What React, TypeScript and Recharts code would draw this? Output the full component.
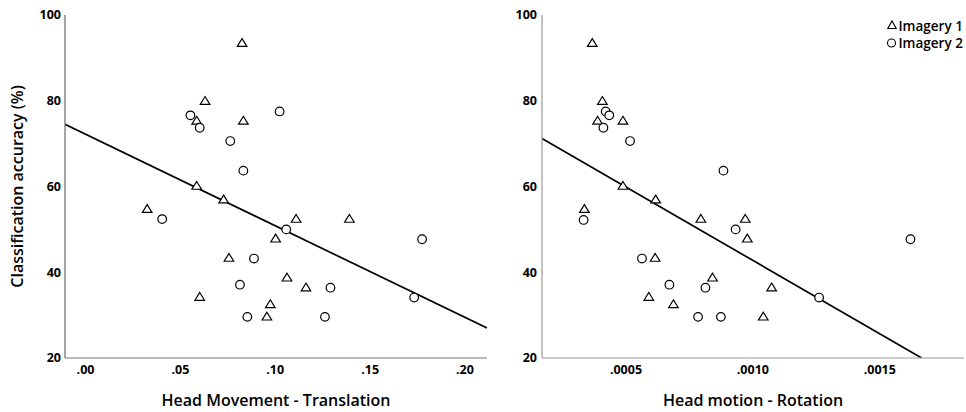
import React from 'react';
import { ScatterChart, Scatter, XAxis, YAxis, ReferenceLine, Legend } from 'recharts';

// ---- Data ----
const imagery1Translation = [0.0825, 0.063, 0.0586, 0.0832, 0.0586, 0.0728, 0.0325, 0.111, 0.1391, 0.1002, 0.0756, 0.1062, 0.1162, 0.0602, 0.0974, 0.0956];
const imagery1Accuracy = [93.5, 80.0, 75.4, 75.4, 60.2, 57.0, 54.8, 52.5, 52.5, 47.9, 43.4, 38.8, 36.5, 34.3, 32.6, 29.7];
const imagery2Translation = [0.0553, 0.1023, 0.0602, 0.0763, 0.0832, 0.0404, 0.1058, 0.1774, 0.0888, 0.0814, 0.1291, 0.1732, 0.0853, 0.1262];
const imagery2Accuracy = [76.6, 77.5, 73.7, 70.6, 63.7, 52.4, 50.0, 47.7, 43.2, 37.1, 36.4, 34.1, 29.6, 29.6];

const imagery1Rotation = [0.000367, 0.000407, 0.000388, 0.000488, 0.000488, 0.000617, 0.000336, 0.000795, 0.00097, 0.000978, 0.000615, 0.000841, 0.001074, 0.00059, 0.000687, 0.001041];
const imagery1AccuracyR = [93.5, 80.0, 75.4, 75.4, 60.2, 57.0, 54.8, 52.5, 52.5, 47.9, 43.4, 38.8, 36.5, 34.3, 32.6, 29.7];
const imagery2Rotation = [0.00042, 0.000434, 0.000411, 0.000516, 0.000884, 0.000333, 0.000932, 0.001621, 0.000563, 0.000671, 0.000813, 0.001261, 0.000784, 0.000874];
const imagery2AccuracyR = [77.5, 76.6, 73.7, 70.6, 63.7, 52.2, 50.0, 47.7, 43.2, 37.1, 36.4, 34.1, 29.6, 29.6];

// fit line endpoints (x, y)
const fitTranslation = [[-0.0108, 74.5], [0.2116, 27.0]];
const fitRotation = [[0.000169, 71.2], [0.001665, 20.0]];

const yTicks = [20, 40, 60, 80, 100];
const xTicksTranslation = [0, 0.05, 0.1, 0.15, 0.2];
const xTicksRotation = [0.0005, 0.001, 0.0015];

const seriesNames = ['Imagery 1', 'Imagery 2'];

const zip = (xs: number[], ys: number[]) => xs.map((x, i) => ({ x, y: ys[i] }));

const FONT = '"Open Sans", "Liberation Sans", Arial, sans-serif';

const Triangle = (props: any) => {
  const { cx, cy } = props;
  if (cx == null || cy == null) return null;
  return (
    <polygon
      points={`${cx},${cy - 4.2} ${cx + 4.8},${cy + 3.6} ${cx - 4.8},${cy + 3.6}`}
      fill="#fff"
      stroke="#000"
      strokeWidth={1.2}
    />
  );
};

const Circle = (props: any) => {
  const { cx, cy } = props;
  if (cx == null || cy == null) return null;
  return <circle cx={cx} cy={cy} r={4.3} fill="#fff" stroke="#000" strokeWidth={1.2} />;
};

const tickStyle = { fontFamily: FONT, fontSize: 12.5, fontWeight: 700, fill: '#000' };

const YTitle = (props: any) => {
  const vb = props.viewBox || { x: 0, y: 15, width: 65, height: 343 };
  const cx = vb.x + 17;
  const cy = vb.y + vb.height / 2;
  return (
    <text
      x={cx}
      y={cy}
      fill="#000"
      transform={`rotate(-90, ${cx}, ${cy})`}
      textAnchor="middle"
      dominantBaseline="central"
      style={{ fontFamily: FONT, fontSize: 16, fontWeight: 600, fill: '#000' }}
    >
      Classification accuracy (%)
    </text>
  );
};

const makeXTitle = (title: string) => (props: any) => {
  const vb = props.viewBox;
  const cx = vb.x + vb.width / 2;
  return (
    <text
      x={cx}
      y={406}
      fill="#000"
      textAnchor="middle"
      style={{ fontFamily: FONT, fontSize: 16, fontWeight: 600, fill: '#000' }}
    >
      {title}
    </text>
  );
};

const legendText = { fontFamily: FONT, fontSize: 13.5, fontWeight: 600, fill: '#000' };

const LegendContent = () => (
  <svg width={80} height={40} style={{ overflow: 'visible' }}>
    <polygon points="8,7 12.2,14.5 3.8,14.5" fill="#fff" stroke="#000" strokeWidth={1.1} />
    <text x={14.5} y={11.5} fill="#000" dominantBaseline="central" style={legendText}>
      {seriesNames[0]}
    </text>
    <circle cx={7.5} cy={29} r={4} fill="#fff" stroke="#000" strokeWidth={1.1} />
    <text x={14.5} y={29} fill="#000" dominantBaseline="central" style={legendText}>
      {seriesNames[1]}
    </text>
  </svg>
);

const fmtTrans = (v: number) => v.toFixed(2).replace(/^0/, '');
const fmtRot = (v: number) => v.toFixed(4).replace(/^0/, '');

export default function App() {
  return (
    <div style={{ position: 'absolute', left: 0, top: 0, width: 966, height: 412, background: '#fff' }}>
      <div style={{ position: 'absolute', left: 0, top: 0 }}>
        <ScatterChart width={490} height={412} margin={{ top: 15, right: 3, bottom: 24, left: 0 }}>
          <XAxis
            type="number"
            dataKey="x"
            domain={[-0.0108, 0.2116]}
            ticks={xTicksTranslation}
            tickFormatter={fmtTrans}
            allowDataOverflow
            height={30}
            tickLine={false}
            tickSize={0}
            tickMargin={7}
            axisLine={{ stroke: '#777', strokeWidth: 1.2 }}
            tick={tickStyle}
            label={{ content: makeXTitle('Head Movement - Translation') }}
          />
          <YAxis
            type="number"
            dataKey="y"
            domain={[20, 100]}
            ticks={yTicks}
            allowDataOverflow
            width={65}
            tickLine={false}
            tickSize={0}
            tickMargin={4}
            axisLine={{ stroke: '#666', strokeWidth: 1.2 }}
            tick={tickStyle}
            label={{ content: YTitle }}
          />
          <ReferenceLine
            segment={[
              { x: fitTranslation[0][0], y: fitTranslation[0][1] },
              { x: fitTranslation[1][0], y: fitTranslation[1][1] },
            ]}
            stroke="#000"
            strokeWidth={1.7}
            ifOverflow="hidden"
          />
          <Scatter name={seriesNames[0]} data={zip(imagery1Translation, imagery1Accuracy)} shape={<Triangle />} isAnimationActive={false} />
          <Scatter name={seriesNames[1]} data={zip(imagery2Translation, imagery2Accuracy)} shape={<Circle />} isAnimationActive={false} />
        </ScatterChart>
      </div>
      <div style={{ position: 'absolute', left: 490, top: 0 }}>
        <ScatterChart width={476} height={412} margin={{ top: 15, right: 2, bottom: 24, left: 0 }}>
          <XAxis
            type="number"
            dataKey="x"
            domain={[0.000169, 0.001832]}
            ticks={xTicksRotation}
            tickFormatter={fmtRot}
            allowDataOverflow
            height={30}
            tickLine={false}
            tickSize={0}
            tickMargin={7}
            axisLine={{ stroke: '#999', strokeWidth: 1.2 }}
            tick={tickStyle}
            label={{ content: makeXTitle('Head motion - Rotation') }}
          />
          <YAxis
            type="number"
            dataKey="y"
            domain={[20, 100]}
            ticks={yTicks}
            allowDataOverflow
            width={52}
            tickLine={false}
            tickSize={0}
            tickMargin={5}
            axisLine={{ stroke: '#999', strokeWidth: 1.2 }}
            tick={tickStyle}
          />
          <ReferenceLine
            segment={[
              { x: fitRotation[0][0], y: fitRotation[0][1] },
              { x: fitRotation[1][0], y: fitRotation[1][1] },
            ]}
            stroke="#000"
            strokeWidth={1.7}
            ifOverflow="hidden"
          />
          <Scatter name={seriesNames[0]} data={zip(imagery1Rotation, imagery1AccuracyR)} shape={<Triangle />} isAnimationActive={false} />
          <Scatter name={seriesNames[1]} data={zip(imagery2Rotation, imagery2AccuracyR)} shape={<Circle />} isAnimationActive={false} />
          <Legend
            layout="vertical"
            align="center"
            verticalAlign="middle"
            content={<LegendContent />}
            wrapperStyle={{ position: 'absolute', left: 394, top: 14, width: 80, height: 40 }}
          />
        </ScatterChart>
      </div>
    </div>
  );
}
